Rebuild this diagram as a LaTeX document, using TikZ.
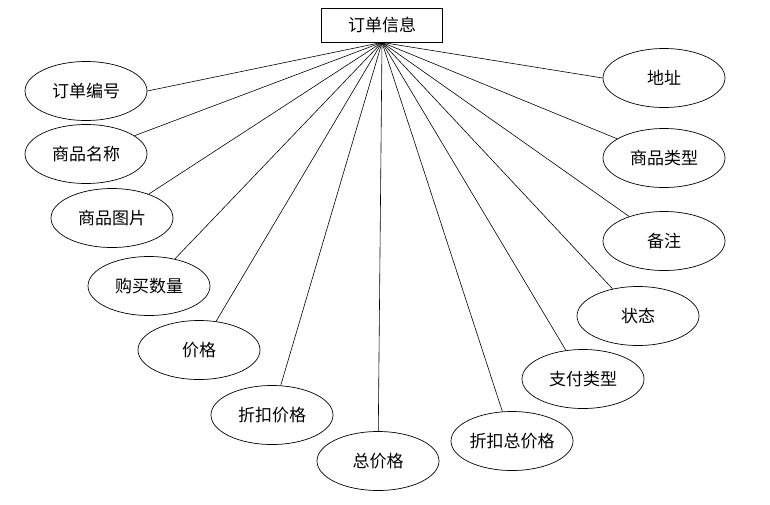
\documentclass[tikz,border=0pt]{standalone}
\usepackage{fontspec}
\newfontfamily\cjk{Noto Sans CJK SC}
\usetikzlibrary{shapes.geometric}
\begin{document}
\begin{tikzpicture}[x=1pt,y=-1pt,
  attr/.style={draw, ellipse, line width=0.7pt, minimum width=122pt, minimum height=59pt, inner sep=0pt, font=\cjk\fontsize{17}{20}\selectfont},
  entity/.style={draw, rectangle, line width=0.8pt, minimum width=121pt, minimum height=34pt, inner sep=0pt, font=\cjk\fontsize{17}{20}\selectfont},
  link/.style={line width=0.6pt}]
\useasboundingbox (0,0) rectangle (770,504);
\node[entity] (box) at (382,25) {订单信息};
\node[attr] (a) at (86,91) {订单编号};
\node[attr] (b) at (86,154) {商品名称};
\node[attr] (c) at (112,218) {商品图片};
\node[attr] (d) at (149,286) {购买数量};
\node[attr] (e) at (199,350) {价格};
\node[attr] (f) at (272,415) {折扣价格};
\node[attr] (g) at (378,461) {总价格};
\node[attr] (h) at (512,441) {折扣总价格};
\node[attr] (i) at (583,379) {支付类型};
\node[attr] (j) at (638,316) {状态};
\node[attr] (k) at (664,241) {备注};
\node[attr] (l) at (664,158) {商品类型};
\node[attr] (m) at (664,78) {地址};
\coordinate (hub) at (box.south);
\draw[link] (hub) -- (a.east);
\draw[link] (hub) -- (m.west);
\foreach \n in {b,c,d,e,f,g,h,i,j,k,l} \draw[link] (hub) -- (\n);
\end{tikzpicture}
\end{document}
